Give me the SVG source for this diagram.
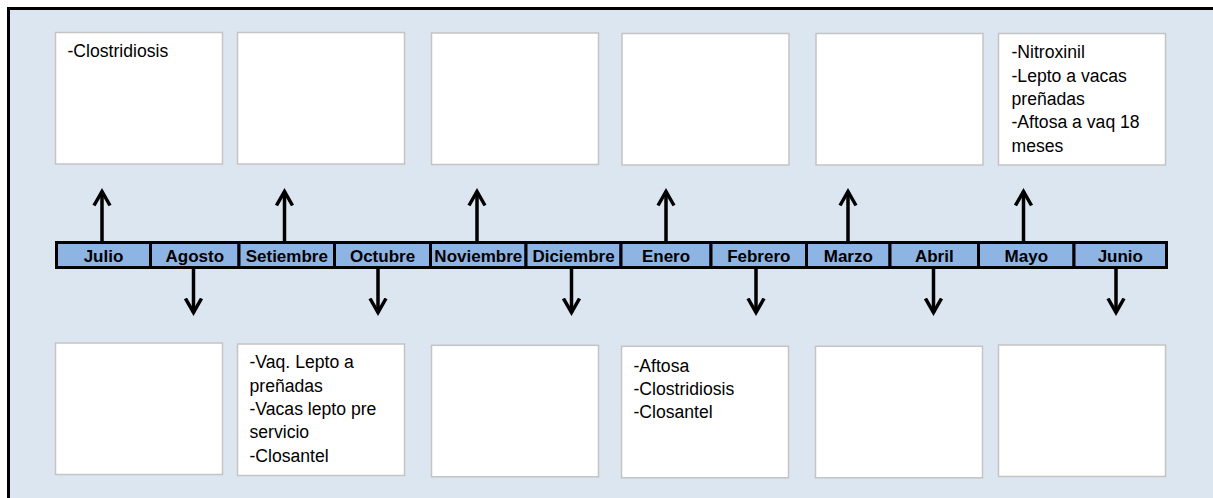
<svg xmlns="http://www.w3.org/2000/svg" width="1213" height="498" viewBox="0 0 1213 498">
<style>
.box{fill:#ffffff;stroke:#c4c4c4;stroke-width:1.5}
.bt{font-family:"Liberation Sans",Arial,sans-serif;font-size:17.6px;fill:#000}
.cell{fill:#8eb4e3;stroke:#000;stroke-width:3}
.mt{font-family:"Liberation Sans",Arial,sans-serif;font-size:17px;font-weight:bold;fill:#000;text-anchor:middle}
.arr{stroke:#000;stroke-width:3.5;fill:none}
</style>
<defs>
<marker id="ah" viewBox="0 0 20 20" refX="15" refY="10" markerWidth="20" markerHeight="20" markerUnits="userSpaceOnUse" orient="auto">
<path d="M1,2 L15,10 L1,18" fill="none" stroke="#000" stroke-width="3.5" stroke-linejoin="miter"/>
</marker>
</defs>
<rect x="0" y="0" width="1213" height="498" fill="#ffffff"/>
<rect x="8.5" y="8.5" width="1220" height="500" fill="#dce6f1" stroke="#000" stroke-width="3"/>

<g id="box-julio"><rect class="box" x="55.5" y="32.5" width="167" height="131.5"/><text class="bt" x="67.5" y="56.7">-Clostridiosis</text></g>
<g id="box-setiembre"><rect class="box" x="237.5" y="32.5" width="167" height="131.5"/></g>
<g id="box-noviembre"><rect class="box" x="431.5" y="33" width="167" height="131.5"/></g>
<g id="box-enero"><rect class="box" x="622" y="33.5" width="167" height="131.5"/></g>
<g id="box-marzo"><rect class="box" x="816" y="33.5" width="167" height="131.5"/></g>
<g id="box-mayo"><rect class="box" x="998.5" y="33.5" width="167" height="131.5"/>
<text class="bt" x="1011.5" y="58.3">-Nitroxinil</text>
<text class="bt" x="1011.5" y="81.6">-Lepto a vacas</text>
<text class="bt" x="1011.5" y="104.9">preñadas</text>
<text class="bt" x="1011.5" y="128.2">-Aftosa a vaq 18</text>
<text class="bt" x="1011.5" y="151.5">meses</text>
</g>

<g id="box-agosto"><rect class="box" x="55.5" y="343" width="167" height="131.5"/></g>
<g id="box-octubre"><rect class="box" x="237.5" y="344" width="167" height="131.5"/>
<text class="bt" x="249.5" y="368.3">-Vaq. Lepto a</text>
<text class="bt" x="249.5" y="391.6">preñadas</text>
<text class="bt" x="249.5" y="414.9">-Vacas lepto pre</text>
<text class="bt" x="249.5" y="438.2">servicio</text>
<text class="bt" x="249.5" y="461.5">-Closantel</text>
</g>
<g id="box-diciembre"><rect class="box" x="431.5" y="345.3" width="167" height="131.5"/></g>
<g id="box-febrero"><rect class="box" x="621.5" y="346.3" width="167" height="131.5"/>
<text class="bt" x="633.5" y="371.7">-Aftosa</text>
<text class="bt" x="633.5" y="395">-Clostridiosis</text>
<text class="bt" x="633.5" y="418.3">-Closantel</text>
</g>
<g id="box-abril"><rect class="box" x="815.5" y="346.3" width="167" height="131.5"/></g>
<g id="box-junio"><rect class="box" x="998.5" y="345" width="167" height="131.5"/></g>

<g id="timeline">
<rect class="cell" x="56.5" y="242.5" width="94" height="25"/>
<rect class="cell" x="150.5" y="242.5" width="88.5" height="25"/>
<rect class="cell" x="239" y="242.5" width="95.5" height="25"/>
<rect class="cell" x="334.5" y="242.5" width="96" height="25"/>
<rect class="cell" x="430.5" y="242.5" width="95.5" height="25"/>
<rect class="cell" x="526" y="242.5" width="95" height="25"/>
<rect class="cell" x="621" y="242.5" width="90" height="25"/>
<rect class="cell" x="711" y="242.5" width="95.5" height="25"/>
<rect class="cell" x="806.5" y="242.5" width="83.5" height="25"/>
<rect class="cell" x="890" y="242.5" width="88.5" height="25"/>
<rect class="cell" x="978.5" y="242.5" width="95.5" height="25"/>
<rect class="cell" x="1074" y="242.5" width="92.5" height="25"/>
<text class="mt" x="103.5" y="261.5">Julio</text>
<text class="mt" x="194.8" y="261.5">Agosto</text>
<text class="mt" x="286.8" y="261.5">Setiembre</text>
<text class="mt" x="382.5" y="261.5">Octubre</text>
<text class="mt" x="478.3" y="261.5">Noviembre</text>
<text class="mt" x="573.5" y="261.5">Diciembre</text>
<text class="mt" x="666" y="261.5">Enero</text>
<text class="mt" x="758.8" y="261.5">Febrero</text>
<text class="mt" x="848.3" y="261.5">Marzo</text>
<text class="mt" x="934.3" y="261.5">Abril</text>
<text class="mt" x="1026.3" y="261.5">Mayo</text>
<text class="mt" x="1120.3" y="261.5">Junio</text>
</g>

<g id="connectors">
<line class="arr" x1="102" y1="241" x2="102" y2="191.5" marker-end="url(#ah)"/>
<line class="arr" x1="284.5" y1="241" x2="284.5" y2="191.5" marker-end="url(#ah)"/>
<line class="arr" x1="477" y1="241" x2="477" y2="191.5" marker-end="url(#ah)"/>
<line class="arr" x1="666" y1="241" x2="666" y2="191.5" marker-end="url(#ah)"/>
<line class="arr" x1="848" y1="241" x2="848" y2="191.5" marker-end="url(#ah)"/>
<line class="arr" x1="1023.5" y1="241" x2="1023.5" y2="191.5" marker-end="url(#ah)"/>
<line class="arr" x1="193.5" y1="269" x2="193.5" y2="312.5" marker-end="url(#ah)"/>
<line class="arr" x1="378" y1="269" x2="378" y2="312.5" marker-end="url(#ah)"/>
<line class="arr" x1="571.5" y1="269" x2="571.5" y2="312.5" marker-end="url(#ah)"/>
<line class="arr" x1="756" y1="269" x2="756" y2="312.5" marker-end="url(#ah)"/>
<line class="arr" x1="933.5" y1="269" x2="933.5" y2="312.5" marker-end="url(#ah)"/>
<line class="arr" x1="1116" y1="269" x2="1116" y2="312.5" marker-end="url(#ah)"/>
</g>
</svg>
